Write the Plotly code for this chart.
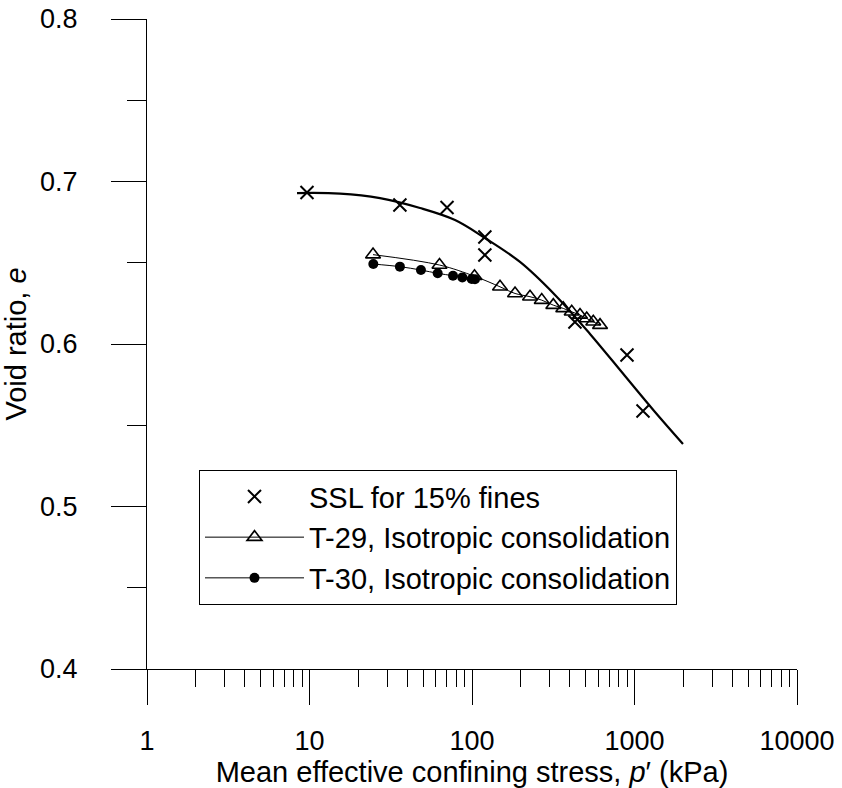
import plotly.graph_objects as go

# ---- data ----
ssl_p = [9.65, 36.0, 70.2, 120, 120, 430, 899, 1128]
ssl_e = [0.6932, 0.6855, 0.6840, 0.6658, 0.6548, 0.6135, 0.5932, 0.5588]

ssl_curve_p = [8.38, 15.41, 27.15, 47.86, 78.6, 120.2, 197.4, 324.2, 532.3, 874, 1337, 1988]
ssl_curve_e = [0.6929, 0.6926, 0.6898, 0.6837, 0.6763, 0.6652, 0.6505, 0.6302, 0.6062, 0.5803, 0.5582, 0.5385]

t29_p = [24.6, 63.1, 103.6, 148.7, 184, 227.5, 268.6, 316.5, 364.5, 410.8, 462, 508, 557.6, 613.6]
t29_e = [0.6550, 0.6486, 0.6417, 0.6352, 0.6311, 0.6291, 0.6270, 0.6239, 0.6219, 0.6198,
         0.6178, 0.6157, 0.6137, 0.6116]

t30_p = [24.7, 36.0, 48.5, 61.5, 76.4, 87.2, 99.6, 104.3]
t30_e = [0.6492, 0.6476, 0.6455, 0.6435, 0.6420, 0.6410, 0.6400, 0.6398]

x_major = [1, 10, 100, 1000, 10000]
x_major_labels = ["1", "10", "100", "1000", "10000"]
x_minor = [m * d for d in (1, 10, 100, 1000) for m in range(2, 10)]
y_major = [0.4, 0.5, 0.6, 0.7, 0.8]
y_major_labels = ["0.4", "0.5", "0.6", "0.7", "0.8"]
y_minor = [0.45, 0.55, 0.65, 0.75]

FONT = "Liberation Sans, Arial, Helvetica, sans-serif"
FS_TICK = 27
FS_TEXT = 29

fig = go.Figure()

fig.add_trace(go.Scatter(
    x=ssl_curve_p, y=ssl_curve_e, mode="lines", line=dict(color="black", width=2.2, shape="spline"),
    showlegend=False, hoverinfo="skip"))
fig.add_trace(go.Scatter(
    x=ssl_p, y=ssl_e, mode="markers", name="SSL for 15% fines",
    marker=dict(symbol="x-thin", size=13, color="black", line=dict(color="black", width=2))))
fig.add_trace(go.Scatter(
    x=t29_p, y=t29_e, mode="lines+markers", name="T-29, Isotropic consolidation",
    line=dict(color="black", width=1, shape="spline"),
    marker=dict(symbol="triangle-up-open", size=13, color="black", line=dict(color="black", width=1.6))))
fig.add_trace(go.Scatter(
    x=t30_p, y=t30_e, mode="lines+markers", name="T-30, Isotropic consolidation",
    line=dict(color="black", width=1, shape="spline"),
    marker=dict(symbol="circle", size=10, color="black")))

fig.update_layout(
    width=842, height=788,
    margin=dict(l=147, r=45, t=19, b=119, autoexpand=False),
    paper_bgcolor="white", plot_bgcolor="white",
    font=dict(family=FONT, size=FS_TICK, color="black"),
    showlegend=True,
    legend=dict(
        x=0.08, y=0.306, xanchor="left", yanchor="top",
        bordercolor="black", borderwidth=1, bgcolor="white",
        font=dict(family=FONT, size=FS_TEXT, color="black"),
        itemwidth=99, tracegroupgap=0,
    ),
)

fig.update_xaxes(
    type="log", range=[0, 4],
    showgrid=False, zeroline=False,
    showline=True, linecolor="black", linewidth=1,
    tickmode="array", tickvals=x_major, ticktext=x_major_labels,
    ticks="outside", ticklen=35, tickwidth=1, tickcolor="black",
    ticklabelstandoff=13,
    minor=dict(tickmode="array", tickvals=x_minor, ticks="outside", ticklen=17,
               tickwidth=1, tickcolor="black", showgrid=False),
    title=dict(text="Mean effective confining stress, <i>p</i>′ (kPa)", standoff=7,
               font=dict(family=FONT, size=FS_TEXT)),
    automargin=False,
)
fig.update_yaxes(
    range=[0.4, 0.8],
    showgrid=False, zeroline=False,
    showline=True, linecolor="black", linewidth=1,
    tickmode="array", tickvals=y_major, ticktext=y_major_labels,
    ticks="outside", ticklen=35, tickwidth=1, tickcolor="black",
    ticklabelstandoff=28,
    minor=dict(tickmode="array", tickvals=y_minor, ticks="outside", ticklen=19,
               tickwidth=1, tickcolor="black", showgrid=False),
    title=dict(text="Void ratio, <i>e</i>", standoff=4, font=dict(family=FONT, size=FS_TEXT)),
    automargin=False,
)

fig.write_html("out.html")
